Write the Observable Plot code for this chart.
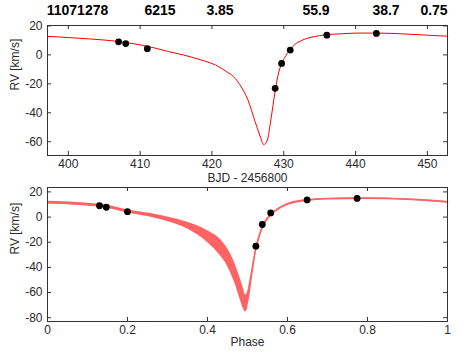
<!DOCTYPE html>
<html><head><meta charset="utf-8">
<script src="https://cdn.jsdelivr.net/npm/d3@7"></script>
<script src="https://cdn.jsdelivr.net/npm/@observablehq/plot@0.6"></script>
<style>
html,body{margin:0;padding:0;background:#fff;}
#wrap{position:relative;width:471px;height:353px;font-family:"Liberation Sans",Arial,sans-serif;}
#hdr span{position:absolute;top:2px;transform:translateX(-50%);font-weight:bold;font-size:14px;color:#000;white-space:nowrap;}
.pl{position:absolute;left:0;}
</style></head>
<body><div id="wrap"><div id="hdr"></div></div>
<script>
// Header values
const headerLabels = ["11071278", "6215", "3.85", "55.9", "38.7", "0.75"];
// Observations
const obsT = [407.0, 408.0, 411.0, 428.8, 429.7, 430.9, 436.0, 442.9];
const obsPhase = [0.130, 0.147, 0.200, 0.521, 0.537, 0.558, 0.649, 0.774];
const obsRV = [9.0, 7.8, 4.3, -23.1, -5.9, 3.3, 13.6, 14.8];
// Best-fit model (top panel)
const modelT = [397.1, 400, 403, 406, 409, 412, 414, 416, 417.5, 419, 420.5, 422, 423, 424, 425, 426, 426.7, 427.2, 427.7, 428.2, 428.8, 429.3, 429.8, 430.5, 431.5, 432.5, 433.5, 435, 438, 441, 444, 447, 450, 452.8];
const modelRV = [12.8, 12.0, 11.0, 9.8, 7.8, 4.8, 2.2, 0.0, -2.0, -4.3, -7.0, -11.5, -15, -21.5, -31, -46, -56, -62, -59, -45, -25, -12, -5, 1.0, 7.0, 10.0, 11.8, 13.3, 14.6, 15.1, 15.0, 14.4, 13.6, 12.9];
// Model envelope (bottom panel)
const bandPhase = [0, 0.05, 0.1, 0.15, 0.2, 0.25, 0.3, 0.35, 0.4, 0.43, 0.45, 0.47, 0.48, 0.49, 0.495, 0.5, 0.505, 0.51, 0.515, 0.52, 0.53, 0.54, 0.55, 0.57, 0.6, 0.65, 0.7, 0.8, 0.9, 1.0];
const bandHi = [12.6, 12.0, 10.9, 9.3, 5.6, 3.2, 0.0, -4.2, -10.8, -17, -25, -38, -47, -57, -62, -60, -52, -43, -34, -25.5, -13.5, -5.5, -0.5, 5.5, 10.8, 13.9, 15.0, 15.4, 14.6, 12.6];
const bandLo = [10.4, 9.8, 8.7, 7.0, 3.2, 0.4, -3.6, -9.5, -20.2, -30, -39, -54, -64, -73, -75.5, -73, -63, -50, -38, -28, -15.5, -7.0, -2.0, 4.2, 9.8, 12.9, 14.0, 14.4, 13.6, 11.2];
// Tick values
const topXTicks = [400, 410, 420, 430, 440, 450];
const topYTicks = [20, 0, -20, -40, -60];
const botXTicks = [0, 0.2, 0.4, 0.6, 0.8, 1];
const botYTicks = [20, 0, -20, -40, -60, -80];

const hdrX = [77.5, 160, 220, 316, 386, 434];
const hdrEl = document.getElementById("hdr");
headerLabels.forEach((t, i) => {
  const s = document.createElement("span");
  s.textContent = t; s.style.left = hdrX[i] + "px";
  hdrEl.appendChild(s);
});

const obs = obsT.map((t, i) => ({t, phase: obsPhase[i], rv: obsRV[i]}));
const model = modelT.map((t, i) => ({t, rv: modelRV[i]}));
const band = bandPhase.map((p, i) => ({p, hi: bandHi[i], lo: bandLo[i]}));

const W = 471, ML = 47, MR = 24, FW = W - ML - MR;
const TL = 4;
const fmt = d => String(d);
const plotStyle = {fontFamily: '"Liberation Sans", Arial, sans-serif', fontSize: "12px", color: "#2a2a2a", background: "transparent"};

function panel({height, mt, mb, xDomain, yDomain, xTicks, yTicks, xLabel, labelDy, marks}) {
  const FH = height - mt - mb;
  return Plot.plot({
    width: W, height, marginLeft: ML, marginRight: MR, marginTop: mt, marginBottom: mb,
    style: plotStyle,
    x: {domain: xDomain},
    y: {domain: yDomain},
    marks: [
      ...marks,
      Plot.frame({stroke: "#333", strokeWidth: 1}),
      Plot.ruleX(xTicks, {x: d => d, insetTop: FH - TL, stroke: "#333"}),
      Plot.ruleX(xTicks, {x: d => d, insetBottom: FH - TL, stroke: "#333"}),
      Plot.ruleY(yTicks, {y: d => d, insetRight: FW - TL, stroke: "#333"}),
      Plot.ruleY(yTicks, {y: d => d, insetLeft: FW - TL, stroke: "#333"}),
      Plot.axisX(xTicks, {tickSize: 0, tickPadding: 4, tickFormat: fmt, label: null}),
      Plot.axisY(yTicks, {tickSize: 0, tickPadding: 5, tickFormat: fmt, label: null}),
      Plot.text([xLabel], {frameAnchor: "bottom", dy: labelDy, text: d => d, fill: "#2a2a2a", fontSize: 12}),
      Plot.text(["RV [km/s]"], {frameAnchor: "left", dx: -32, rotate: -90, text: d => d, fill: "#2a2a2a", fontSize: 12})
    ]
  });
}

const topPlot = panel({
  height: 185, mt: 25, mb: 30,
  xDomain: [397.1, 452.8], yDomain: [-69.5, 20.3],
  xTicks: topXTicks, yTicks: topYTicks, xLabel: "BJD - 2456800", labelDy: 26,
  marks: [
    Plot.line(model, {x: "t", y: "rv", stroke: "#ff0000", strokeWidth: 1, curve: "monotone-x"}),
    Plot.dot(obs, {x: "t", y: "rv", r: 3.4, fill: "#000", stroke: "none"})
  ]
});
topPlot.classList.add("pl"); topPlot.style.top = "0px";

const botPlot = panel({
  height: 168, mt: 2, mb: 32,
  xDomain: [0, 1], yDomain: [-83, 23.5],
  xTicks: botXTicks, yTicks: botYTicks, xLabel: "Phase", labelDy: 24,
  marks: [
    Plot.areaY(band, {x: "p", y1: "lo", y2: "hi", fill: "#ff6464", fillOpacity: 1, curve: "monotone-x"}),
    Plot.line(band, {x: "p", y: d => (d.lo + d.hi) / 2, stroke: "#ff6464", strokeWidth: 1.5, curve: "monotone-x"}),
    Plot.dot(obs, {x: "phase", y: "rv", r: 3.4, fill: "#000", stroke: "none"})
  ]
});
botPlot.classList.add("pl"); botPlot.style.top = "185px";

const wrap = document.getElementById("wrap");
wrap.appendChild(topPlot);
wrap.appendChild(botPlot);
</script>
</body></html>
